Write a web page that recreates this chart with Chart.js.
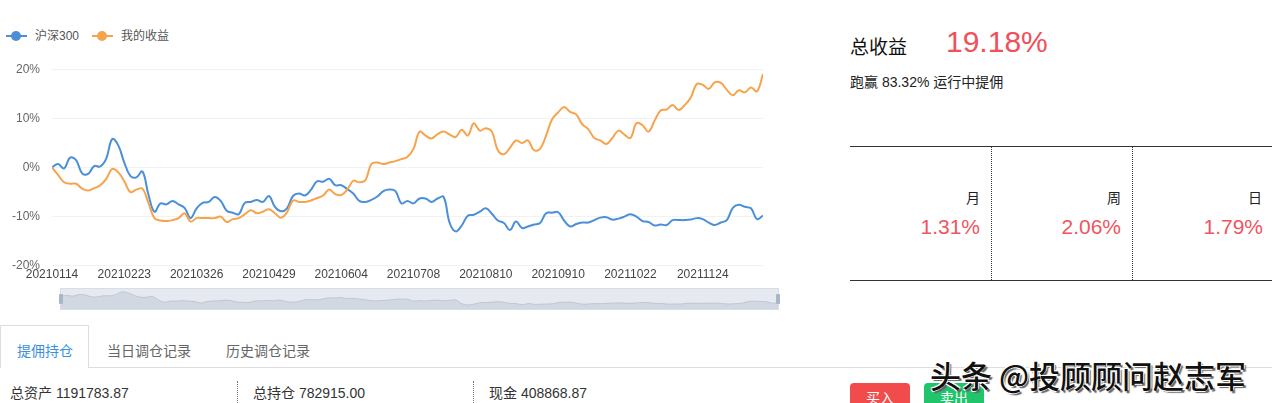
<!DOCTYPE html>
<html>
<head>
<meta charset="utf-8">
<script src="https://cdn.jsdelivr.net/npm/chart.js@4/dist/chart.umd.min.js"></script>
<style>
  html, body { margin: 0; padding: 0; }
  body {
    width: 1272px; height: 403px; overflow: hidden; position: relative; background: #fff;
    font-family: "Liberation Sans", Arial, "Noto Sans CJK SC", sans-serif; color: #333;
  }
  .abs { position: absolute; white-space: nowrap; }
  .lg { top: 29px; font-size: 12px; color: #555; line-height: 14px; display: flex; align-items: center; }
  .lg i { position: relative; display: inline-block; width: 21px; height: 2px; margin-right: 8px; }
  .lg i b { position: absolute; left: 5px; top: -4px; width: 10px; height: 10px; border-radius: 50%; }
  #main { left: 0; top: 50px; width: 790px; height: 235px; }
  #mini { left: 61px; top: 289px; width: 717px; height: 20px; background: #e6eaf0; outline: 1px solid #d8dee6; }
  .handle { top: 294px; width: 4px; height: 10px; background: #a9b6c8; border-radius: 1px; }
  .tab { top: 340px; font-size: 14px; color: #666; }
  #tabon { left: 0; top: 325px; width: 89px; height: 43px; border: 1px solid #ddd; border-bottom: none; background: #fff; box-sizing: border-box; }
  .stat { top: 382px; font-size: 14px; color: #333; }
  .sep { top: 381px; height: 22px; border-left: 1px dotted #777; }
  .cell { font-size: 14px; color: #222; text-align: right; }
  .pct { font-size: 21px; color: #ee5560; text-align: right; }
  .vsep { top: 147px; height: 133px; border-left: 1px dotted #333; }
  .btn { top: 383px; width: 60px; height: 30px; border-radius: 4px; color: #fff; font-size: 14px; text-align: center; line-height: 30px; }
</style>
</head>
<body>
  <div class="abs lg" style="left:6px"><i style="background:#4a8fd8"><b style="background:#4a8fd8"></b></i>沪深300</div>
  <div class="abs lg" style="left:92px"><i style="background:#f7a34c"><b style="background:#f7a34c"></b></i>我的收益</div>

  <div class="abs" id="main"><canvas id="chart"></canvas></div>
  <div class="abs" id="mini"><canvas id="shadow"></canvas></div>
  <div class="abs handle" style="left:59px"></div>
  <div class="abs handle" style="left:776px"></div>

  <div class="abs" style="left:89px; top:367px; width:1183px; border-top:1px solid #ddd"></div>
  <div class="abs" id="tabon"></div>
  <div class="abs tab" style="left:17px; color:#3b8fdc">提佣持仓</div>
  <div class="abs tab" style="left:107px">当日调仓记录</div>
  <div class="abs tab" style="left:226px">历史调仓记录</div>

  <div class="abs stat" style="left:10px">总资产 1191783.87</div>
  <div class="abs sep" style="left:237px"></div>
  <div class="abs stat" style="left:253px">总持仓 782915.00</div>
  <div class="abs sep" style="left:473px"></div>
  <div class="abs stat" style="left:489px">现金 408868.87</div>

  <div class="abs" style="left:850px; top:32px; font-size:19px; color:#111">总收益</div>
  <div class="abs" style="left:946px; top:25px; font-size:30px; color:#f0505a">19.18%</div>
  <div class="abs" style="left:850px; top:71px; font-size:14px; color:#222">跑赢 83.32% 运行中提佣</div>

  <div class="abs" style="left:850px; top:146px; width:422px; border-top:1px solid #333"></div>
  <div class="abs" style="left:850px; top:280px; width:422px; border-top:1px solid #333"></div>
  <div class="abs vsep" style="left:991px"></div>
  <div class="abs vsep" style="left:1132px"></div>
  <div class="abs cell" style="left:880px; width:100px; top:187px">月</div>
  <div class="abs pct" style="left:880px; width:100px; top:215px">1.31%</div>
  <div class="abs cell" style="left:1021px; width:100px; top:187px">周</div>
  <div class="abs pct" style="left:1021px; width:100px; top:215px">2.06%</div>
  <div class="abs cell" style="left:1162px; width:100px; top:187px">日</div>
  <div class="abs pct" style="left:1163px; width:100px; top:215px">1.79%</div>

  <div class="abs btn" style="left:850px; background:#f24b4b">买入</div>
  <div class="abs btn" style="left:924px; background:#1fc46b">卖出</div>
  <div class="abs" style="left:930px; top:352px; font-size:31px; font-weight:500; color:#111; font-family:'Noto Sans CJK SC',sans-serif;
       text-shadow: -1px -1px 0 #fff, 1px -1px 0 #fff, -1px 1px 0 #fff, 2px 2px 1px #666;">头条 @投顾顾问赵志军</div>

<script>
/* ── data: cumulative return (%), one reading every 2 trading days from 20210114 ── */
const DAY_STEP = 2;
const HS300 = [
  0, 0.7, -0.2, 2, 1.5, -1.2, -1.3, 0.3, 0.2, 1.8,
  5.8, 4.5, 1, -1.7, -2, -0.8, -5.5, -9, -7.3, -7.5,
  -6.8, -7.5, -8.2, -10.3, -8.3, -7.2, -7, -6, -6.8, -8.8,
  -9.2, -9.5, -7.2, -7, -6.6, -7, -5.8, -8, -8.9, -8.3,
  -5.8, -5.3, -5.7, -4.5, -2.8, -2.9, -2.3, -3.6, -3.6, -4.4,
  -5.3, -6.8, -7, -6.6, -5.9, -4.8, -4.5, -4.8, -7.3, -6.8,
  -7.3, -6.3, -6.3, -7, -6.3, -6, -11.3, -13, -11.8, -9.8,
  -9.6, -9, -8.3, -9.4, -10.8, -11.3, -12.7, -11, -12.3, -12,
  -11.6, -11.3, -9.3, -9.2, -9.1, -10.8, -12, -11.5, -11.2, -11.2,
  -10.7, -10.2, -10.1, -10.6, -10.4, -10, -9.5, -10, -10.9, -11.1,
  -11.8, -11.6, -11.7, -10.7, -10.7, -10.7, -10.6, -10.3, -10.5, -11.2,
  -11.7, -11.2, -10.7, -8.2, -7.6, -8, -8.3, -10.5, -9.8,
];
const MY_RETURN = [
  0, -1.5, -3, -3.3, -3.3, -4.3, -4.7, -4.2, -3.6, -2.3,
  -0.3, -1, -2.8, -5, -4.5, -4.3, -7.2, -10.3, -10.8, -10.9,
  -10.7, -10.3, -9.3, -11, -10.3, -10.3, -10.3, -10.3, -10, -11.1,
  -10.5, -10.3, -9.5, -8.7, -9.3, -9, -8.5, -9.3, -10.2, -9.1,
  -6.7, -7, -7, -6.7, -6.2, -5.7, -4.5, -5.4, -5.6, -4.5,
  -2.7, -3, -2.6, 0.7, 1, 0.7, 1, 1.3, 1.7, 2.2,
  3.8, 7.3, 6.5, 5.9, 6.8, 7.3, 6.7, 6.2, 7.7, 6.5,
  9, 7.5, 8, 7.3, 3.5, 2.7, 4, 5.5, 5, 5.5,
  3.5, 3.8, 6.5, 9.8, 11.2, 12.3, 11.3, 10.8, 8.8, 7.8,
  6, 5.5, 4.8, 6, 7.5, 6.7, 6, 9, 8.6, 7.3,
  9.5, 11.6, 11.8, 12.7, 11.7, 12.7, 14.2, 17, 16.8, 16,
  17.3, 17.2, 15.8, 14.7, 15.7, 15.3, 16.3, 15.5, 19,
];
const TICK_DAY = [0, 24, 48, 72, 96, 120, 144, 168, 192, 216];
const TICK_LABELS = ['20210114', '20210223', '20210326', '20210429', '20210604',
                     '20210708', '20210810', '20210910', '20211022', '20211124'];
const Y_TICKS = [-20, -10, 0, 10, 20];

const BLUE = '#4a8fd8';
const ORANGE = '#f7a34c';
const LAST_DAY = (HS300.length - 1) * DAY_STEP;

function toPoints(vals) {
  return vals.map((y, i) => ({ x: i * DAY_STEP, y }));
}

/* ── main chart ── */
new Chart(document.getElementById('chart').getContext('2d'), {
  type: 'line',
  data: {
    datasets: [
      { label: '沪深300', data: toPoints(HS300), borderColor: BLUE, borderWidth: 2,
        pointRadius: 0, tension: 0.4, order: 1 },
      { label: '我的收益', data: toPoints(MY_RETURN), borderColor: ORANGE, borderWidth: 2,
        pointRadius: 0, tension: 0.4, order: 0 },
    ],
  },
  options: {
    animation: false,
    responsive: true,
    maintainAspectRatio: false,
    layout: { padding: { top: 12, right: 27, left: 0, bottom: 0 } },
    plugins: { legend: { display: false }, tooltip: { enabled: false } },
    scales: {
      x: {
        type: 'linear', min: 0, max: LAST_DAY,
        grid: { display: false, drawTicks: false },
        border: { display: false },
        afterBuildTicks: s => { s.ticks = TICK_DAY.map(v => ({ value: v })); },
        ticks: {
          autoSkip: false, maxRotation: 0, padding: 2, color: '#444',
          font: { size: 12, family: '"Liberation Sans", Arial, sans-serif' },
          callback: v => TICK_LABELS[TICK_DAY.indexOf(v)] ?? '',
        },
      },
      y: {
        min: Y_TICKS[0], max: Y_TICKS[Y_TICKS.length - 1],
        afterFit: s => { s.width = 52; },
        afterBuildTicks: s => { s.ticks = Y_TICKS.map(v => ({ value: v })); },
        grid: { color: '#f2f2f2', drawTicks: false },
        border: { display: false },
        ticks: {
          padding: 12, color: '#666',
          font: { size: 12, family: '"Liberation Sans", Arial, sans-serif' },
          callback: v => v + '%',
        },
      },
    },
  },
});

/* ── data-zoom shadow strip ── */
new Chart(document.getElementById('shadow').getContext('2d'), {
  type: 'line',
  data: {
    datasets: [{
      data: toPoints(HS300), borderColor: 'rgba(150,162,180,0.5)', borderWidth: 0.8,
      backgroundColor: 'rgba(165,177,195,0.3)', fill: 'start', pointRadius: 0, tension: 0.4,
    }],
  },
  options: {
    animation: false,
    responsive: true,
    maintainAspectRatio: false,
    layout: { padding: 0 },
    plugins: { legend: { display: false }, tooltip: { enabled: false } },
    scales: {
      x: { type: 'linear', display: false, min: 0, max: LAST_DAY },
      y: { display: false, min: -19, max: 10 },
    },
  },
});
</script>
</body>
</html>
